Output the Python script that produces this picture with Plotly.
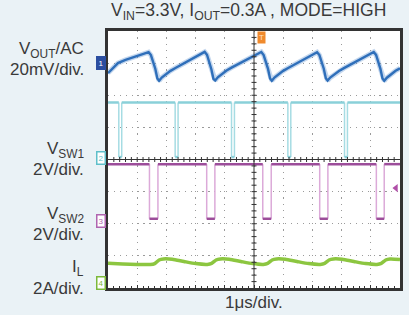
import plotly.graph_objects as go

# ---------------- data ----------------
# VOUT (AC) in mV, 20 mV/div
vout_t = [0.00, 0.15, 0.34, 0.60, 0.92, 1.20, 1.39,
          1.47, 1.62, 1.69, 1.75, 1.84, 1.97, 2.14, 2.31, 2.49, 2.67, 2.85, 3.01, 3.17, 3.31,
          3.39, 3.54, 3.61, 3.67, 3.76, 3.89, 4.06, 4.23, 4.41, 4.59, 4.77, 4.93, 5.09, 5.25,
          5.33, 5.48, 5.55, 5.61, 5.70, 5.83, 6.00, 6.17, 6.35, 6.53, 6.71, 6.87, 7.03, 7.16,
          7.24, 7.39, 7.46, 7.52, 7.61, 7.74, 7.91, 8.08, 8.26, 8.44, 8.62, 8.78, 8.94, 9.10,
          9.18, 9.33, 9.40, 9.46, 9.55, 9.68, 9.85, 10.00]
vout_mv = [-6.2, -3.5, 0.0, 2.0, 3.8, 5.4, 6.8,
           5.0, -3.5, -9.5, -11.0, -9.0, -7.0, -4.8, -3.0, -1.2, 0.5, 2.3, 3.8, 5.3, 7.0,
           5.2, -3.8, -9.8, -10.8, -8.8, -6.8, -4.6, -2.8, -1.0, 0.6, 2.4, 3.9, 5.4, 6.9,
           5.0, -3.6, -9.6, -11.0, -9.0, -7.0, -4.8, -3.0, -1.2, 0.4, 2.2, 3.8, 5.3, 6.8,
           5.0, -3.5, -9.4, -10.9, -9.0, -7.1, -4.9, -3.1, -1.3, 0.4, 2.2, 3.7, 5.2, 6.9,
           5.1, -3.6, -9.6, -11.0, -9.1, -7.0, -4.8, -3.2]

# VSW1 in V, 2 V/div: high level with short dips
sw1_high = 3.45
sw1_low = 0.05
sw1_fall = [0.37, 2.30, 4.23, 6.16, 8.10]
sw1_rise = [0.47, 2.40, 4.33, 6.26, 8.20]

# VSW2 in V, 2 V/div: high level with low pulses
sw2_high = 3.55
sw2_low = 0.15
sw2_fall = [1.42, 3.38, 5.30, 7.25, 9.19]
sw2_rise = [1.71, 3.66, 5.59, 7.53, 9.46]

# IL in A, 2 A/div
il_t = [0.00, 0.50, 1.00, 1.45, 1.60, 1.75, 1.90, 2.20, 2.60, 3.00,
        3.40, 3.55, 3.70, 3.85, 4.15, 4.55, 4.95,
        5.32, 5.47, 5.62, 5.77, 6.07, 6.47, 6.87,
        7.27, 7.42, 7.57, 7.72, 8.02, 8.42, 8.82,
        9.21, 9.36, 9.51, 9.66, 10.00]
il_a = [1.22, 1.18, 1.15, 1.14, 1.20, 1.42, 1.49, 1.47, 1.33, 1.20,
        1.15, 1.21, 1.42, 1.49, 1.47, 1.33, 1.20,
        1.15, 1.21, 1.42, 1.49, 1.47, 1.33, 1.20,
        1.15, 1.21, 1.42, 1.49, 1.47, 1.33, 1.20,
        1.15, 1.21, 1.42, 1.49, 1.46]

# channel settings (screen divisions)
vout_pos, vout_scale = 7.0, 20.0
sw1_pos, sw1_scale = 4.05, 2.0
sw2_pos, sw2_scale = 2.08, 2.0
il_pos, il_scale = 0.16, 2.0
trig_t = 5.25

TXT = "#3a3a3a"
FONT = "Liberation Sans, Arial, sans-serif"

def to_div(vals, pos, scale):
    return [pos + v / scale for v in vals]

def pulse_levels(fall, rise, hi, lo):
    lx, ly, ex, ey = [], [], [], []
    prev = 0.0
    for f, r in zip(fall, rise):
        lx += [prev, f, None, f, r, None]
        ly += [hi, hi, None, lo, lo, None]
        ex += [f, f, None, r, r, None]
        ey += [hi, lo, None, lo, hi, None]
        prev = r
    lx += [prev, 10.0]
    ly += [hi, hi]
    return lx, ly, ex, ey

def scale_list(vals, pos, scale):
    return [None if v is None else pos + v / scale for v in vals]

fig = go.Figure()

lx, ly, ex, ey = pulse_levels(sw1_fall, sw1_rise, sw1_high, sw1_low)
fig.add_trace(go.Scatter(x=ex, y=scale_list(ey, sw1_pos, sw1_scale), mode="lines",
                         line=dict(color="#a6dce3", width=1.5), hoverinfo="skip"))
fig.add_trace(go.Scatter(x=lx, y=scale_list(ly, sw1_pos, sw1_scale), mode="lines",
                         line=dict(color="#8ad0d9", width=2.5), hoverinfo="skip"))
lx, ly, ex, ey = pulse_levels(sw2_fall, sw2_rise, sw2_high, sw2_low)
fig.add_trace(go.Scatter(x=ex, y=scale_list(ey, sw2_pos, sw2_scale), mode="lines",
                         line=dict(color="#dcaad9", width=1.5), hoverinfo="skip"))
fig.add_trace(go.Scatter(x=lx, y=scale_list(ly, sw2_pos, sw2_scale), mode="lines",
                         line=dict(color="#9c4d9a", width=2.5), hoverinfo="skip"))
fig.add_trace(go.Scatter(x=il_t, y=to_div(il_a, il_pos, il_scale), mode="lines",
                         line=dict(color="#8cc640", width=3.5, shape="spline", smoothing=0.6),
                         hoverinfo="skip"))
vy = to_div(vout_mv, vout_pos, vout_scale)
fig.add_trace(go.Scatter(x=vout_t, y=vy, mode="lines", opacity=0.35,
                         line=dict(color="#5a8fd0", width=5), hoverinfo="skip"))
fig.add_trace(go.Scatter(x=vout_t, y=vy, mode="lines",
                         line=dict(color="#2f6fba", width=2.4), hoverinfo="skip"))
fig.add_trace(go.Scatter(x=[9.86], y=[3.11], mode="markers", cliponaxis=False,
                         marker=dict(symbol="triangle-left", size=7, color="#b04fa8"),
                         hoverinfo="skip"))

shapes = []
shapes.append(dict(type="line", xref="x", yref="y", x0=5, x1=5, y0=0, y1=8,
                   line=dict(color="#333", width=1)))
shapes.append(dict(type="line", xref="x", yref="y", x0=0, x1=10, y0=4, y1=4,
                   line=dict(color="#333", width=1)))
for i in range(1, 40):
    yy = i * 0.2
    shapes.append(dict(type="line", xref="x", yref="y", xsizemode="pixel", xanchor=5,
                       x0=-2.5, x1=2.5, y0=yy, y1=yy, line=dict(color="#333", width=1)))
for i in range(1, 50):
    xx = i * 0.2
    shapes.append(dict(type="line", xref="x", yref="y", ysizemode="pixel", yanchor=4,
                       y0=-2.5, y1=2.5, x0=xx, x1=xx, line=dict(color="#333", width=1)))

ann = []
ann.append(dict(text="V<sub>IN</sub>=3.3V, I<sub>OUT</sub>=0.3A , MODE=HIGH", xref="paper", yref="paper",
                x=0.48, y=1.074, xanchor="center", yanchor="middle", showarrow=False,
                font=dict(size=17.5, color=TXT, family=FONT)))
labels = [("V<sub>OUT</sub>/AC", 7.41), ("20mV/div.", 6.79),
          ("V<sub>SW1</sub>", 4.30), ("2V/div.", 3.68),
          ("V<sub>SW2</sub>", 2.28), ("2V/div.", 1.66),
          ("I<sub>L</sub>", 0.62), ("2A/div.", 0.00)]
for t, yy in labels:
    ann.append(dict(text=t, xref="paper", yref="y", x=-0.0746, y=yy, xanchor="right",
                    yanchor="middle", showarrow=False, font=dict(size=17, color=TXT, family=FONT)))
ann.append(dict(text="1μs/div.", xref="paper", yref="paper", x=0.5, y=-0.058, xanchor="center",
                yanchor="middle", showarrow=False, font=dict(size=17, color=TXT, family=FONT)))
marks = [("1", vout_pos, "#2b4ea0", "#ffffff", "#2b4ea0"),
         ("2", sw1_pos, "#ffffff", "#5fbfca", "#5fbfca"),
         ("3", sw2_pos, "#ffffff", "#b065b0", "#b065b0"),
         ("4", il_pos, "#ffffff", "#7cb93a", "#7cb93a")]
for t, yy, bg, fc, bc in marks:
    ann.append(dict(text=t, xref="paper", yref="y", x=-0.024, y=yy, xanchor="center",
                    yanchor="middle", showarrow=False, bgcolor=bg, bordercolor=bc, borderwidth=1.5,
                    borderpad=1, font=dict(size=8, color=fc, family=FONT)))
ann.append(dict(text="T", xref="x", yref="paper", x=trig_t, y=1.0, xanchor="center",
                yanchor="top", showarrow=False, bgcolor="#f08a2c", borderpad=1,
                font=dict(size=8, color="#ffe0c0", family=FONT)))

fig.update_layout(
    width=409, height=315,
    margin=dict(l=108, r=6, t=31, b=27),
    paper_bgcolor="#eaf2f6", plot_bgcolor="#ffffff",
    showlegend=False,
    shapes=shapes, annotations=ann,
    xaxis=dict(range=[0, 10], dtick=1, showticklabels=False, showgrid=True,
               gridcolor="#9a9a9a", gridwidth=1.2, griddash="1.2px,5.2px",
               showline=True, linecolor="#333", linewidth=2.5, mirror=True,
               ticks="inside", tickmode="linear", tick0=0, ticklen=3, tickcolor="#333",
               zeroline=False, fixedrange=True),
    yaxis=dict(range=[0, 8], dtick=1, showticklabels=False, showgrid=True,
               gridcolor="#9a9a9a", gridwidth=1.2, griddash="1.2px,4.7px",
               showline=True, linecolor="#333", linewidth=3, mirror=True,
               zeroline=False, fixedrange=True),
)
fig.update_xaxes(minor=dict(ticks="inside", dtick=0.2, ticklen=2, tickcolor="#333"))

fig.write_html("out.html", config={"displayModeBar": False},
               post_script="document.body.style.margin='0';document.body.style.overflow='hidden';")
